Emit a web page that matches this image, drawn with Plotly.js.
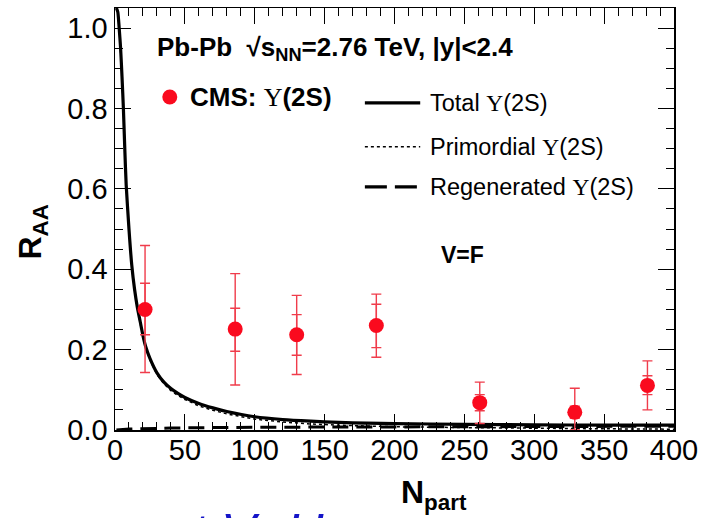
<!DOCTYPE html>
<html>
<head>
<meta charset="utf-8">
<script src="https://cdn.plot.ly/plotly-3.0.1.min.js"></script>
<style>html,body{margin:0;padding:0;background:#fff;}#chart{width:705px;height:518px;}</style>
</head>
<body>
<div id="chart"></div>
<script>
// ---- data ----
const npartModel = [1, 2, 3, 4, 5, 6, 7, 8, 10, 12, 14, 16, 18, 20, 22, 25, 30, 35, 40, 45, 50, 60, 70, 80, 100, 120, 140, 160, 180, 200, 250, 300, 350, 400];
const totalRAA = [1.05, 1.04, 1.00, 0.95, 0.88, 0.80, 0.70, 0.61, 0.50, 0.41, 0.35, 0.305, 0.27, 0.235, 0.207, 0.178, 0.142, 0.119, 0.103, 0.091, 0.081, 0.066, 0.055, 0.046, 0.033, 0.026, 0.022, 0.019, 0.017, 0.016, 0.014, 0.013, 0.012, 0.012];
const primordialRAA = [1.05, 1.04, 0.999, 0.949, 0.879, 0.799, 0.699, 0.608, 0.498, 0.407, 0.347, 0.302, 0.266, 0.232, 0.204, 0.174, 0.138, 0.115, 0.098, 0.086, 0.076, 0.060, 0.049, 0.040, 0.027, 0.020, 0.015, 0.012, 0.010, 0.008, 0.006, 0.004, 0.003, 0.002];
const regenRAA = [0.0, 0.0005, 0.001, 0.0012, 0.0015, 0.0017, 0.0019, 0.002, 0.0022, 0.0025, 0.0027, 0.003, 0.0032, 0.0035, 0.0037, 0.004, 0.0043, 0.0046, 0.005, 0.0052, 0.0055, 0.006, 0.0062, 0.0065, 0.0068, 0.007, 0.0072, 0.0074, 0.0076, 0.0078, 0.0082, 0.0086, 0.009, 0.0095];

const cmsNpart = [21.5, 86, 130, 187, 261, 329, 381];
const cmsRAA = [0.300, 0.251, 0.237, 0.260, 0.068, 0.044, 0.111];
const cmsTotErrUp = [0.159, 0.138, 0.098, 0.078, 0.051, 0.060, 0.061];
const cmsTotErrDown = [0.157, 0.139, 0.099, 0.079, 0.052, 0.044, 0.061];
const cmsStatErrUp = [0.065, 0.052, 0.050, 0.053, 0.020, 0.015, 0.024];
const cmsStatErrDown = [0.063, 0.055, 0.051, 0.055, 0.020, 0.015, 0.023];

const xTickVals = [0, 50, 100, 150, 200, 250, 300, 350, 400];
const yTickVals = [0.0, 0.2, 0.4, 0.6, 0.8, 1.0];
const yTickText = ['0.0', '0.2', '0.4', '0.6', '0.8', '1.0'];

const U = '<span style="font-family:\'Liberation Serif\';font-weight:normal">Υ</span>';
const red = 'rgb(250,10,30)';
const errRed = 'rgb(240,60,75)';

const traces = [
  {x: npartModel, y: regenRAA, mode: 'lines', line: {color: '#000', width: 3, dash: '16px,8px'}, showlegend: false, hoverinfo: 'skip'},
  {x: npartModel, y: primordialRAA, mode: 'lines', line: {color: '#000', width: 1.5, dash: 'dot'}, showlegend: false, hoverinfo: 'skip'},
  {x: npartModel, y: totalRAA, mode: 'lines', line: {color: '#000', width: 3.2, shape: 'spline', smoothing: 0.6}, showlegend: false, hoverinfo: 'skip'},
  {x: cmsNpart, y: cmsRAA, mode: 'markers', marker: {size: 0.1, color: 'rgba(0,0,0,0)'}, showlegend: false,
   error_y: {type: 'data', symmetric: false, array: cmsTotErrUp, arrayminus: cmsTotErrDown, color: errRed, thickness: 1.4, width: 5}},
  {x: cmsNpart, y: cmsRAA, mode: 'markers', marker: {size: 15, color: red}, showlegend: false,
   error_y: {type: 'data', symmetric: false, array: cmsStatErrUp, arrayminus: cmsStatErrDown, color: errRed, thickness: 1.4, width: 5}}
];

const tf = {family: 'Liberation Sans, Arial, sans-serif', size: 29, color: '#000'};
const axisCommon = {showgrid: false, zeroline: false, showline: true, linecolor: '#000', linewidth: 1.5,
  mirror: 'allticks', ticks: 'inside', ticklen: 16, tickwidth: 1.2, tickcolor: '#000', tickfont: tf};

const layout = {
  width: 705, height: 518,
  margin: {l: 115, r: 31, t: 8, b: 88},
  paper_bgcolor: '#fff', plot_bgcolor: '#fff',
  showlegend: false,
  xaxis: Object.assign({}, axisCommon, {range: [0, 400], tickvals: xTickVals, ticktext: xTickVals.map(String),
    ticklabelstandoff: -6,
    minor: {dtick: 10, tick0: 0, ticklen: 8, ticks: 'inside', tickcolor: '#000', tickwidth: 1}}),
  yaxis: Object.assign({}, axisCommon, {range: [0, 1.05], tickvals: yTickVals, ticktext: yTickText,
    minor: {dtick: 0.05, tick0: 0, ticklen: 8, ticks: 'inside', tickcolor: '#000', tickwidth: 1}}),
  shapes: [
    {type: 'line', xref: 'paper', yref: 'paper', x0: 0.447, x1: 0.546, y0: 0.775, y1: 0.775, line: {color: '#000', width: 3.2}},
    {type: 'line', xref: 'paper', yref: 'paper', x0: 0.447, x1: 0.546, y0: 0.671, y1: 0.671, line: {color: '#000', width: 1.5, dash: 'dot'}},
    {type: 'line', xref: 'paper', yref: 'paper', x0: 0.447, x1: 0.546, y0: 0.576, y1: 0.576, line: {color: '#000', width: 3.2, dash: '22px,8px'}},
    {type: 'circle', xref: 'paper', yref: 'paper', xsizemode: 'pixel', ysizemode: 'pixel', xanchor: 0.098, yanchor: 0.789,
     x0: -7.5, x1: 7.5, y0: -7.5, y1: 7.5, fillcolor: red, line: {width: 0}}
  ],
  annotations: [
    {xref: 'paper', yref: 'paper', x: 0.072, y: 0.905, xanchor: 'left', yanchor: 'middle', showarrow: false,
     text: '<b>Pb-Pb  √s<sub>NN</sub>=2.76 TeV, |y|<2.4</b>', font: {family: 'Liberation Sans, Arial', size: 26, color: '#000'}},
    {xref: 'paper', yref: 'paper', x: 0.130, y: 0.789, xanchor: 'left', yanchor: 'middle', showarrow: false,
     text: '<b>CMS: </b>' + U + '<b>(2S)</b>', font: {family: 'Liberation Sans, Arial', size: 26, color: '#000'}},
    {xref: 'paper', yref: 'paper', x: 0.560, y: 0.775, xanchor: 'left', yanchor: 'middle', showarrow: false,
     text: 'Total ' + U + '(2S)', font: {family: 'Liberation Sans, Arial', size: 23.5, color: '#000'}},
    {xref: 'paper', yref: 'paper', x: 0.560, y: 0.671, xanchor: 'left', yanchor: 'middle', showarrow: false,
     text: 'Primordial ' + U + '(2S)', font: {family: 'Liberation Sans, Arial', size: 23.5, color: '#000'}},
    {xref: 'paper', yref: 'paper', x: 0.560, y: 0.576, xanchor: 'left', yanchor: 'middle', showarrow: false,
     text: 'Regenerated ' + U + '(2S)', font: {family: 'Liberation Sans, Arial', size: 23.5, color: '#000'}},
    {xref: 'paper', yref: 'paper', x: 0.6225, y: 0.415, xanchor: 'center', yanchor: 'middle', showarrow: false,
     text: '<b>V=F</b>', font: {family: 'Liberation Sans, Arial', size: 23, color: '#000'}},
    {xref: 'paper', yref: 'paper', x: 0.570, y: -0.10, xanchor: 'center', yanchor: 'top', showarrow: false,
     text: '<b>N<sub>part</sub></b>', font: {family: 'Liberation Sans, Arial', size: 32, color: '#000'}},
    {xref: 'paper', yref: 'paper', x: -0.147, y: 0.47, xanchor: 'center', yanchor: 'middle', showarrow: false, textangle: -90,
     text: '<b>R<sub>AA</sub></b>', font: {family: 'Liberation Sans, Arial', size: 32, color: '#000'}},
    {xref: 'paper', yref: 'paper', x: 0.255, y: -0.168, xanchor: 'center', yanchor: 'top', showarrow: false,
     text: 't V=H', font: {family: 'Liberation Sans, Arial', size: 52, color: 'rgb(20,20,200)', style: 'italic'}}
  ]
};

Plotly.newPlot('chart', traces, layout, {displayModeBar: false, staticPlot: true});
</script>
</body>
</html>
